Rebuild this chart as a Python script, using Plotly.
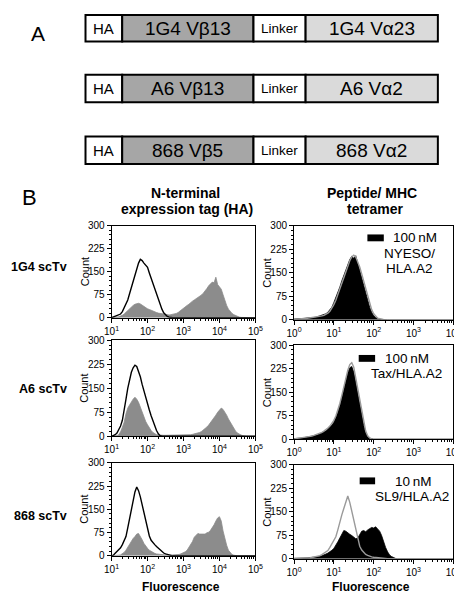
import plotly.graph_objects as go

W, H = 462, 593
FONT = "Liberation Sans, Arial, sans-serif"

# ---------------- Panel A data ----------------
construct_tag = ["HA", "HA", "HA"]
construct_vb = ["1G4 Vβ13", "A6 Vβ13", "868 Vβ5"]
construct_linker = ["Linker", "Linker", "Linker"]
construct_va = ["1G4 Vα23", "A6 Vα2", "868 Vα2"]

# ---------------- Panel B data ----------------
row_labels = ["1G4 scTv", "A6 scTv", "868 scTv"]
legend_line1 = ["100\u2009nM", "100\u2009nM", "10\u2009nM"]
legend_rest = [["NYESO/", "HLA.A2"], ["Tax/HLA.A2"], ["SL9/HLA.A2"]]
left_ticktext = ["10<sup>1</sup>", "10<sup>2</sup>", "10<sup>3</sup>", "10<sup>4</sup>", "10<sup>5</sup>"]
right_ticktext = ["10<sup>0</sup>", "10<sup>1</sup>", "10<sup>2</sup>", "10<sup>3</sup>", "10<sup>4</sup>"]
count_ticks = [0, 75, 150, 225, 300]

# bin centres (log10 fluorescence), 0.05 steps
left_bins_log = [round(1 + 0.05 * i, 2) for i in range(81)]   # 10^1 .. 10^5
right_bins_log = [round(0.05 * i, 2) for i in range(81)]      # 10^0 .. 10^4

# HA staining: gray filled = scTv, black outline = control
ha_1g4_scTv = [0, 0, 1, 2, 3, 5, 8, 12, 18, 24, 30, 34, 40, 44, 46, 47, 45, 41, 36, 32,
               29, 27, 24, 21, 20, 17, 15, 14, 12, 11, 10, 10, 9, 10, 11, 12, 14, 17, 22, 28,
               33, 37, 40, 44, 50, 54, 58, 62, 66, 69, 74, 80, 86, 95, 104, 112, 116, 114, 132, 108,
               100, 93, 75, 56, 40, 28, 20, 14, 10, 7, 4, 2, 1, 1, 0, 0, 0, 0, 0, 0, 0]
ha_1g4_ctrl = [0, 2, 4, 6, 8, 12, 20, 32, 44, 58, 78, 98, 118, 142, 160, 178, 190, 186, 178, 172,
               164, 146, 128, 110, 94, 78, 60, 44, 28, 16, 8, 4, 2, 0, 0, 0, 0, 0, 0, 0,
               0, 0, 0, 0, 0, 0, 0, 0, 0, 0, 0, 0, 0, 0, 0, 0, 0, 0, 0, 0,
               0, 0, 0, 0, 0, 0, 0, 0, 0, 0, 0, 0, 0, 0, 0, 0, 0, 0, 0, 0, 0]
ha_a6_scTv = [0, 0, 1, 2, 5, 14, 28, 44, 70, 88, 98, 108, 116, 122, 116, 106, 90, 76, 60, 46,
              36, 26, 18, 12, 8, 5, 4, 3, 3, 3, 3, 3, 3, 3, 3, 3, 3, 3, 3, 4,
              4, 4, 4, 5, 5, 6, 7, 8, 10, 12, 15, 19, 24, 29, 35, 42, 50, 58, 66, 75,
              82, 88, 84, 76, 66, 54, 44, 34, 24, 16, 10, 6, 4, 2, 0, 0, 0, 0, 0, 0, 0]
ha_a6_ctrl = [0, 2, 5, 10, 20, 32, 50, 78, 115, 150, 178, 200, 214, 222, 218, 204, 186, 162, 140, 118,
              98, 82, 64, 48, 30, 18, 8, 2, 0, 0, 0, 0, 0, 0, 0, 0, 0, 0, 0, 0,
              0, 0, 0, 0, 0, 0, 0, 0, 0, 0, 0, 0, 0, 0, 0, 0, 0, 0, 0, 0,
              0, 0, 0, 0, 0, 0, 0, 0, 0, 0, 0, 0, 0, 0, 0, 0, 0, 0, 0, 0, 0]
ha_868_scTv = [0, 0, 0, 1, 2, 3, 6, 11, 18, 28, 38, 46, 56, 62, 70, 72, 64, 52, 40, 30,
               24, 18, 14, 12, 8, 6, 5, 4, 3, 2, 2, 2, 2, 2, 2, 3, 3, 4, 5, 7,
               9, 13, 18, 26, 34, 46, 60, 68, 72, 70, 70, 68, 70, 74, 76, 82, 90, 100, 112, 122,
               126, 112, 80, 52, 34, 18, 10, 4, 2, 0, 0, 0, 0, 0, 0, 0, 0, 0, 0, 0, 0]
ha_868_ctrl = [0, 2, 8, 14, 20, 26, 36, 48, 62, 90, 118, 150, 176, 206, 222, 210, 190, 166, 136, 108,
               84, 64, 50, 42, 36, 30, 24, 18, 13, 9, 6, 4, 2, 0, 0, 0, 0, 0, 0, 0,
               0, 0, 0, 0, 0, 0, 0, 0, 0, 0, 0, 0, 0, 0, 0, 0, 0, 0, 0, 0,
               0, 0, 0, 0, 0, 0, 0, 0, 0, 0, 0, 0, 0, 0, 0, 0, 0, 0, 0, 0, 0]

# tetramer staining: black filled = tetramer, gray line = control
tet_1g4_stain = [2, 2, 3, 3, 4, 4, 5, 5, 6, 6, 7, 8, 10, 11, 13, 16, 19, 24, 31, 40,
                 55, 70, 86, 104, 124, 140, 160, 178, 192, 202, 196, 204, 180, 160, 136, 112, 84, 60, 40, 24,
                 13, 7, 4, 2, 1, 0, 0, 0, 0, 0, 0, 0, 0, 0, 0, 0, 0, 0, 0, 0,
                 0, 0, 0, 0, 0, 0, 0, 0, 0, 0, 0, 0, 0, 0, 0, 0, 0, 0, 0, 0, 0]
tet_1g4_ctrl = [1, 2, 2, 3, 3, 4, 4, 5, 5, 6, 6, 7, 9, 10, 12, 14, 17, 21, 27, 36,
                48, 62, 78, 96, 116, 134, 154, 172, 188, 200, 206, 200, 186, 168, 146, 122, 96, 72, 50, 32,
                19, 10, 5, 3, 1, 0, 0, 0, 0, 0, 0, 0, 0, 0, 0, 0, 0, 0, 0, 0,
                0, 0, 0, 0, 0, 0, 0, 0, 0, 0, 0, 0, 0, 0, 0, 0, 0, 0, 0, 0, 0]
tet_a6_stain = [2, 2, 3, 3, 4, 5, 6, 7, 8, 10, 11, 12, 14, 17, 20, 23, 27, 32, 38, 45,
                54, 68, 86, 106, 132, 158, 188, 212, 228, 232, 214, 180, 142, 106, 72, 44, 20, 8, 3, 1,
                0, 0, 0, 0, 0, 0, 0, 0, 0, 0, 0, 0, 0, 0, 0, 0, 0, 0, 0, 0,
                0, 0, 0, 0, 0, 0, 0, 0, 0, 0, 0, 0, 0, 0, 0, 0, 0, 0, 0, 0, 0]
tet_a6_ctrl = [1, 2, 2, 3, 4, 4, 5, 6, 8, 10, 12, 14, 16, 19, 22, 26, 30, 36, 42, 50,
               60, 74, 92, 114, 140, 168, 196, 220, 238, 244, 230, 196, 156, 118, 82, 50, 26, 11, 4, 1,
               0, 0, 0, 0, 0, 0, 0, 0, 0, 0, 0, 0, 0, 0, 0, 0, 0, 0, 0, 0,
               0, 0, 0, 0, 0, 0, 0, 0, 0, 0, 0, 0, 0, 0, 0, 0, 0, 0, 0, 0, 0]
tet_868_stain = [1, 1, 1, 2, 2, 2, 3, 3, 4, 4, 5, 6, 6, 7, 9, 11, 15, 18, 22, 27,
                 33, 42, 54, 66, 80, 90, 88, 82, 78, 74, 70, 64, 66, 78, 88, 90, 86, 92, 96, 100,
                 98, 102, 95, 88, 74, 54, 36, 22, 12, 7, 3, 1, 0, 0, 0, 0, 0, 0, 0, 0,
                 0, 0, 0, 0, 0, 0, 0, 0, 0, 0, 0, 0, 0, 0, 0, 0, 0, 0, 0, 0, 0]
tet_868_ctrl = [1, 1, 1, 1, 2, 2, 2, 2, 3, 4, 5, 6, 8, 10, 13, 17, 21, 26, 36, 46,
                56, 70, 92, 118, 140, 160, 182, 200, 180, 152, 118, 86, 60, 40, 28, 20, 14, 11, 8, 6,
                5, 4, 3, 2, 1, 1, 0, 0, 0, 0, 0, 0, 0, 0, 0, 0, 0, 0, 0, 0,
                0, 0, 0, 0, 0, 0, 0, 0, 0, 0, 0, 0, 0, 0, 0, 0, 0, 0, 0, 0, 0]

left_fill = [ha_1g4_scTv, ha_a6_scTv, ha_868_scTv]
left_line = [ha_1g4_ctrl, ha_a6_ctrl, ha_868_ctrl]
right_fill = [tet_1g4_stain, tet_a6_stain, tet_868_stain]
right_line = [tet_1g4_ctrl, tet_a6_ctrl, tet_868_ctrl]

# ---------------- layout geometry (pixels) ----------------
LEFT_X = (99, 248)
RIGHT_X = (288, 453)
LEFT_ROWS = [(216, 310), (333, 431), (458, 553)]
RIGHT_ROWS = [(216, 312), (338, 434), (460, 556)]


def px(x):
    return x / W


def py(y):
    return 1 - y / H


left_x = [10 ** v for v in left_bins_log]
right_x = [10 ** v for v in right_bins_log]

fig = go.Figure()
layout = dict(width=W, height=H, margin=dict(l=0, r=0, t=0, b=0),
              paper_bgcolor="white", plot_bgcolor="white", showlegend=False,
              font=dict(family=FONT, color="black"))

shapes = []
annotations = []


def axis_base():
    return dict(showline=True, linecolor="black", linewidth=1, mirror=True,
                ticks="outside", ticklen=4, tickwidth=1, tickcolor="black",
                showgrid=False, zeroline=False, fixedrange=True,
                tickfont=dict(size=10, color="black", family=FONT))


left_minor = [m * 10 ** d for d in range(1, 5) for m in range(2, 10)]
right_minor = [m * 10 ** d for d in range(0, 4) for m in range(2, 10)]

idx = 0
for r in range(3):
    for side in ("L", "R"):
        idx += 1
        xa = "x" if idx == 1 else f"x{idx}"
        ya = "y" if idx == 1 else f"y{idx}"
        xkey = "xaxis" if idx == 1 else f"xaxis{idx}"
        ykey = "yaxis" if idx == 1 else f"yaxis{idx}"
        if side == "L":
            xr, (yt, yb) = LEFT_X, LEFT_ROWS[r]
            xs = left_x
            fill_vals, line_vals = left_fill[r], left_line[r]
            fill_col, line_col = "#8c8c8c", "black"
            rng = [1, 5]
            tv = [10, 100, 1e3, 1e4, 1e5]
            tt = left_ticktext
            mv = left_minor
        else:
            xr, (yt, yb) = RIGHT_X, RIGHT_ROWS[r]
            xs = right_x
            fill_vals, line_vals = right_fill[r], right_line[r]
            fill_col, line_col = "black", "#9a9a9a"
            rng = [0, 4]
            tv = [1, 10, 100, 1e3, 1e4]
            tt = right_ticktext
            mv = right_minor

        fig.add_trace(go.Scatter(x=xs, y=fill_vals, mode="lines", fill="tozeroy",
                                 fillcolor=fill_col, line=dict(color=fill_col, width=0.8),
                                 xaxis=xa, yaxis=ya, hoverinfo="skip"))
        fig.add_trace(go.Scatter(x=xs, y=line_vals, mode="lines",
                                 line=dict(color=line_col, width=1.4),
                                 xaxis=xa, yaxis=ya, hoverinfo="skip"))

        xd = axis_base()
        xd.update(type="log", range=rng, domain=[px(xr[0]), px(xr[1])], anchor=ya,
                  tickmode="array", tickvals=tv, ticktext=tt,
                  minor=dict(tickmode="array", tickvals=mv, ticks="outside",
                             ticklen=2, tickcolor="black", showgrid=False))
        yd = axis_base()
        yd.update(range=[0, 300], domain=[py(yb), py(yt)], anchor=xa,
                  tickmode="array", tickvals=count_ticks,
                  minor=dict(dtick=15, ticks="outside", ticklen=2,
                             tickcolor="black", showgrid=False))
        layout[xkey] = xd
        layout[ykey] = yd

        # "Count" axis title
        annotations.append(dict(text="Count", x=px(xr[0] - 28), y=py((yt + yb) / 2),
                                xref="paper", yref="paper", showarrow=False, textangle=-90,
                                font=dict(size=11, family=FONT), xanchor="center", yanchor="middle"))

# ---------------- Panel A: constructs ----------------
A_ROWS = [(1, 28), (62, 90), (125, 153)]
SEG_X = [72, 110, 246, 300, 437]
SEG_FILL = ["white", "#a6a6a6", "white", "#dadada"]
SEG_SIZE = [15, 19, 13.5, 19]
for i, (yt, yb) in enumerate(A_ROWS):
    texts = [construct_tag[i], construct_vb[i], construct_linker[i], construct_va[i]]
    for s in range(4):
        shapes.append(dict(type="rect", xref="paper", yref="paper",
                           x0=px(SEG_X[s]), x1=px(SEG_X[s + 1]), y0=py(yb), y1=py(yt),
                           fillcolor=SEG_FILL[s], line=dict(color="black", width=2), layer="above"))
        annotations.append(dict(text=texts[s], x=px((SEG_X[s] + SEG_X[s + 1]) / 2),
                                y=py((yt + yb) / 2 + 0.5), xref="paper", yref="paper",
                                showarrow=False, xanchor="center", yanchor="middle",
                                font=dict(size=SEG_SIZE[s], family=FONT, color="black")))

annotations.append(dict(text="A", x=px(23), y=py(20), xref="paper", yref="paper", showarrow=False,
                        xanchor="center", yanchor="middle", font=dict(size=21, family=FONT)))
annotations.append(dict(text="B", x=px(14), y=py(187), xref="paper", yref="paper", showarrow=False,
                        xanchor="center", yanchor="middle", font=dict(size=22, family=FONT)))

# column titles
for txt, x, y in [("N-terminal", 176, 183), ("expression tag (HA)", 177, 199),
                  ("Peptide/ MHC", 369, 183), ("tetramer", 372, 199)]:
    annotations.append(dict(text=f"<b>{txt}</b>", x=px(x), y=py(y), xref="paper", yref="paper",
                            showarrow=False, xanchor="center", yanchor="middle",
                            font=dict(size=14, family=FONT)))

# row labels
for lab, y in zip(row_labels, [258, 383, 512]):
    annotations.append(dict(text=f"<b>{lab}</b>", x=px(55), y=py(y), xref="paper", yref="paper",
                            showarrow=False, xanchor="right", yanchor="middle",
                            font=dict(size=12.5, family=FONT)))

# x titles
for x in [171, 368]:
    annotations.append(dict(text="<b>Fluorescence</b>", x=px(x), y=py(585), xref="paper", yref="paper",
                            showarrow=False, xanchor="center", yanchor="middle",
                            font=dict(size=12, family=FONT)))

# legends in tetramer panels
LEG_RECT = [(364, 381, 225, 232), (355, 372, 348, 355), (356, 372, 473, 480)]
LEG_L1 = [(388, 228), (380, 352), (391, 477)]
LEG_REST = [[(408, 244), (408, 260)], [(405, 367)], [(410, 492)]]
for i in range(3):
    x0, x1, y0, y1 = LEG_RECT[i]
    shapes.append(dict(type="rect", xref="paper", yref="paper", x0=px(x0), x1=px(x1),
                       y0=py(y1), y1=py(y0), fillcolor="black", line=dict(width=0)))
    lx, ly = LEG_L1[i]
    annotations.append(dict(text=legend_line1[i], x=px(lx), y=py(ly), xref="paper", yref="paper",
                            showarrow=False, xanchor="left", yanchor="middle",
                            font=dict(size=13.5, family=FONT)))
    for txt, (tx, ty) in zip(legend_rest[i], LEG_REST[i]):
        annotations.append(dict(text=txt, x=px(tx), y=py(ty), xref="paper", yref="paper",
                                showarrow=False, xanchor="center", yanchor="middle",
                                font=dict(size=13.5, family=FONT)))

layout["shapes"] = shapes
layout["annotations"] = annotations
fig.update_layout(**layout)
fig.write_html("out.html", config={"displayModeBar": False})
